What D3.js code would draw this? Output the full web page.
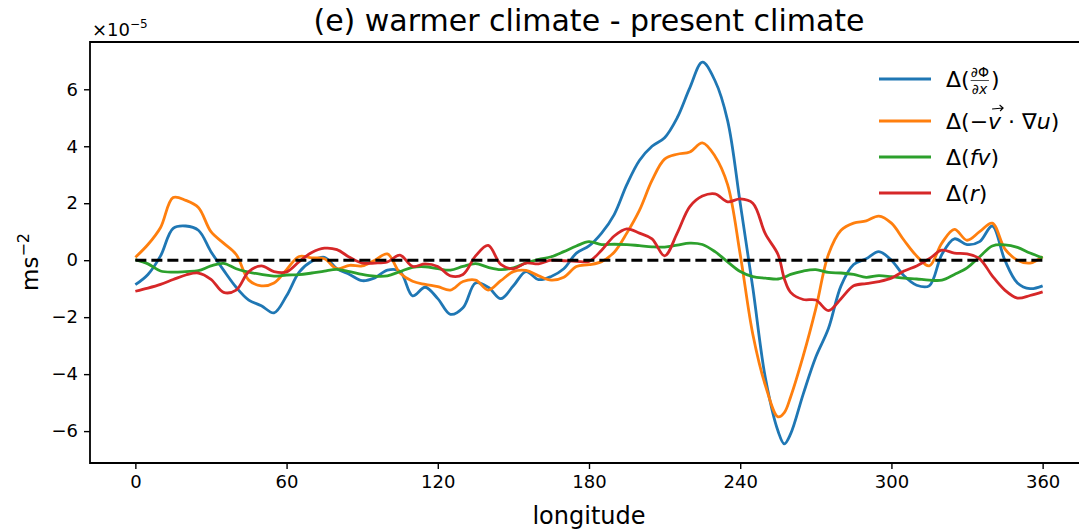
<!DOCTYPE html>
<html>
<head>
<meta charset="utf-8">
<script src="https://cdn.jsdelivr.net/npm/d3@7"></script>
<style>
  body { margin: 0; background: #fff; }
  svg { font-family: "DejaVu Sans", sans-serif; }
</style>
</head>
<body>
<svg id="chart"></svg>
<script>
// longitude grid (degrees) and the four tendency differences (x 1e-5 m s^-2)
const lon = [0, 5, 10, 15, 20, 25, 30, 35, 40, 45, 50, 55, 60, 65, 70, 75, 80, 85, 90, 95,
  100, 105, 110, 115, 120, 125, 130, 135, 140, 145, 150, 155, 160, 165, 170, 175, 180, 185,
  190, 195, 200, 205, 210, 215, 220, 225, 230, 235, 240, 245, 250, 255, 257.5, 260, 265,
  270, 275, 280, 285, 290, 295, 300, 305, 310, 315, 320, 325, 330, 335, 340, 345, 350, 355, 360];

const dPhi = [-0.86, -0.5, 0.15, 1.12, 1.2, 1.05, 0.3, -0.35, -0.95, -1.4, -1.6, -1.85, -1.25,
  -0.42, -0.04, 0.1, -0.3, -0.5, -0.72, -0.62, -0.35, -0.39, -1.25, -0.95, -1.35, -1.9, -1.67,
  -0.8, -0.95, -1.35, -0.9, -0.4, -0.68, -0.57, -0.3, 0.25, 0.5, 0.95, 1.6, 2.65, 3.5, 4.0, 4.3,
  5.0, 6.05, 6.95, 6.3, 4.9, 2.0, -0.97, -4.14, -6.0, -6.45, -6.1, -4.7, -3.4, -2.4, -0.9, -0.15,
  0.05, 0.3, 0.0, -0.55, -0.88, -0.9, 0.2, 0.75, 0.55, 0.65, 1.2, 0.0, -0.8, -1.0, -0.9];

const dAdv = [0.1, 0.55, 1.15, 2.2, 2.1, 1.85, 1.0, 0.6, 0.2, -0.7, -0.9, -0.8, -0.33, 0.13,
  0.08, 0.05, -0.3, -0.18, -0.2, 0.0, 0.22, -0.45, -0.74, -0.85, -0.93, -1.05, -0.75, -0.7,
  -1.05, -0.72, -0.4, -0.36, -0.55, -0.7, -0.6, -0.22, -0.16, -0.05, 0.28, 0.95, 1.75, 2.8, 3.55,
  3.72, 3.8, 4.12, 3.65, 2.65, 0.2, -2.6, -4.4, -5.5, -5.35, -4.8, -3.36, -1.7, 0.2, 1.05, 1.3,
  1.38, 1.55, 1.3, 0.7, 0.15, -0.2, 0.6, 1.08, 0.7, 1.0, 1.3, 0.4, 0.0, -0.1, 0.12];

const dFv = [0.02, -0.13, -0.38, -0.42, -0.4, -0.37, -0.2, -0.11, -0.3, -0.42, -0.5, -0.56,
  -0.52, -0.51, -0.45, -0.38, -0.32, -0.4, -0.5, -0.56, -0.55, -0.4, -0.25, -0.23, -0.3, -0.35,
  -0.22, -0.12, -0.25, -0.33, -0.27, -0.1, 0.03, 0.12, 0.3, 0.5, 0.65, 0.55, 0.56, 0.55, 0.51,
  0.47, 0.46, 0.53, 0.6, 0.55, 0.3, -0.06, -0.4, -0.58, -0.63, -0.66, -0.6, -0.5, -0.38, -0.33,
  -0.43, -0.45, -0.5, -0.6, -0.54, -0.58, -0.63, -0.66, -0.7, -0.7, -0.5, -0.27, 0.12, 0.5,
  0.54, 0.45, 0.25, 0.08];

const dR = [-1.09, -0.98, -0.85, -0.68, -0.52, -0.45, -0.67, -1.13, -1.05, -0.4, -0.2, -0.4,
  -0.41, -0.05, 0.27, 0.42, 0.37, 0.1, -0.1, -0.1, -0.06, 0.18, -0.22, -0.13, -0.22, -0.55, -0.5,
  0.15, 0.52, -0.15, -0.3, -0.1, -0.13, 0.0, -0.02, -0.04, -0.04, 0.35, 0.85, 1.1, 0.95, 0.75,
  0.15, 0.95, 1.88, 2.25, 2.33, 2.05, 2.15, 2.0, 0.92, 0.2, -0.65, -1.13, -1.38, -1.4, -1.77,
  -1.35, -0.9, -0.82, -0.75, -0.63, -0.38, -0.2, 0.05, 0.35, 0.25, 0.22, 0.05, -0.55, -1.05,
  -1.33, -1.24, -1.11];

const xTicks = [0, 60, 120, 180, 240, 300, 360];
const yTicks = [-6, -4, -2, 0, 2, 4, 6];
const colors = ["#1f77b4", "#ff7f0e", "#2ca02c", "#d62728"];

const W = 1079, H = 530;
const svg = d3.select("#chart").attr("width", W).attr("height", H);

const x = d3.scaleLinear().domain([-18, 378]).range([90, 1088]);
const y = d3.scaleLinear().domain([-7.12, 7.66]).range([463, 42]);

// lines
const series = [dPhi, dAdv, dFv, dR];
const line = d3.line().x((d, i) => x(lon[i])).y(d => y(d)).curve(d3.curveCatmullRom.alpha(0.5));
series.forEach((s, k) => {
  svg.append("path").attr("d", line(s)).attr("fill", "none")
    .attr("stroke", colors[k]).attr("stroke-width", 2.8).attr("stroke-linejoin", "round");
});

// zero reference
svg.append("line").attr("x1", x(0)).attr("x2", x(360)).attr("y1", y(0)).attr("y2", y(0))
  .attr("stroke", "#000").attr("stroke-width", 3).attr("stroke-dasharray", "11,5");

// axes
const xAxis = svg.append("g").attr("transform", `translate(0,463)`)
  .call(d3.axisBottom(x).tickValues(xTicks).tickSize(6).tickPadding(6));
const yAxis = svg.append("g").attr("transform", `translate(90,0)`)
  .call(d3.axisLeft(y).tickValues(yTicks).tickSize(6).tickPadding(6)
    .tickFormat(d => d < 0 ? "\u2212" + Math.abs(d) : d));
[xAxis, yAxis].forEach(g => {
  g.select(".domain").remove();
  g.selectAll("line").attr("stroke", "#000").attr("stroke-width", 1.4);
  g.selectAll("text").attr("font-size", 18).attr("fill", "#000")
    .attr("font-family", "DejaVu Sans, sans-serif");
});

// spines
svg.append("path").attr("d", `M1088,42H90V463H1088`).attr("fill", "none")
  .attr("stroke", "#000").attr("stroke-width", 1.8);

// title and labels
svg.append("text").attr("x", 589).attr("y", 31).attr("text-anchor", "middle")
  .attr("font-size", 30).text("(e) warmer climate - present climate");

svg.append("text").attr("x", x(180)).attr("y", 524).attr("text-anchor", "middle")
  .attr("font-size", 24).text("longitude");

const yl = svg.append("text").attr("transform", "translate(38,262) rotate(-90)")
  .attr("text-anchor", "middle").attr("font-size", 23);
yl.append("tspan").text("ms");
yl.append("tspan").attr("font-size", 16).attr("dy", -9).text("\u22122");

const off = svg.append("text").attr("x", 92).attr("y", 36).attr("font-size", 18);
off.append("tspan").text("\u00d710");
off.append("tspan").attr("font-size", 12).attr("dy", -8).text("\u22125");

// legend
const legY = [79, 121, 157, 193];
const lg = svg.append("g");
legY.forEach((ly, k) => {
  lg.append("line").attr("x1", 879).attr("x2", 931).attr("y1", ly).attr("y2", ly)
    .attr("stroke", colors[k]).attr("stroke-width", 2.8);
});
const tx = 946, fs = 22;
// entry 1: Δ(∂Φ/∂x)
{
  const t = lg.append("text").attr("x", tx).attr("y", 87).attr("font-size", fs).text("\u0394(");
  const w = t.node().getComputedTextLength();
  const fx = tx + w + 1;
  const num = lg.append("text").attr("x", fx).attr("y", 77).attr("font-size", 14).text("\u2202\u03a6");
  const den = lg.append("text").attr("x", fx + 1).attr("y", 94).attr("font-size", 14).text("\u2202");
  den.append("tspan").attr("font-style", "italic").text("x");
  const fw = Math.max(num.node().getComputedTextLength(), den.node().getComputedTextLength() + 1);
  lg.append("line").attr("x1", fx).attr("x2", fx + fw).attr("y1", 80.5).attr("y2", 80.5)
    .attr("stroke", "#000").attr("stroke-width", 0.7);
  lg.append("text").attr("x", fx + fw + 2).attr("y", 87).attr("font-size", fs).text(")");
}
// entry 2: Δ(−v⃗·∇u)
{
  const t = lg.append("text").attr("x", tx).attr("y", 129).attr("font-size", fs);
  t.append("tspan").text("\u0394(\u2212");
  t.append("tspan").attr("font-style", "italic").text("v");
  t.append("tspan").text(" \u00b7 \u2207");
  t.append("tspan").attr("font-style", "italic").text("u");
  t.append("tspan").text(")");
  const n = t.node();
  const s = n.getStartPositionOfChar(3).x, e = n.getEndPositionOfChar(3).x;
  const ax0 = s + 4, ax1 = e + 2, ay = 108;
  lg.append("path").attr("d", `M${ax0},${ay + 1}L${ax1},${ay}M${ax1 - 3.5},${ay - 3}L${ax1},${ay}L${ax1 - 3},${ay + 3}`)
    .attr("fill", "none").attr("stroke", "#000").attr("stroke-width", 1.1);
}
// entry 3: Δ(fv)
{
  const t = lg.append("text").attr("x", tx).attr("y", 165).attr("font-size", fs);
  t.append("tspan").text("\u0394(");
  t.append("tspan").attr("font-style", "italic").text("fv");
  t.append("tspan").text(")");
}
// entry 4: Δ(r)
{
  const t = lg.append("text").attr("x", tx).attr("y", 201).attr("font-size", fs);
  t.append("tspan").text("\u0394(");
  t.append("tspan").attr("font-style", "italic").text("r");
  t.append("tspan").text(")");
}
</script>
</body>
</html>
